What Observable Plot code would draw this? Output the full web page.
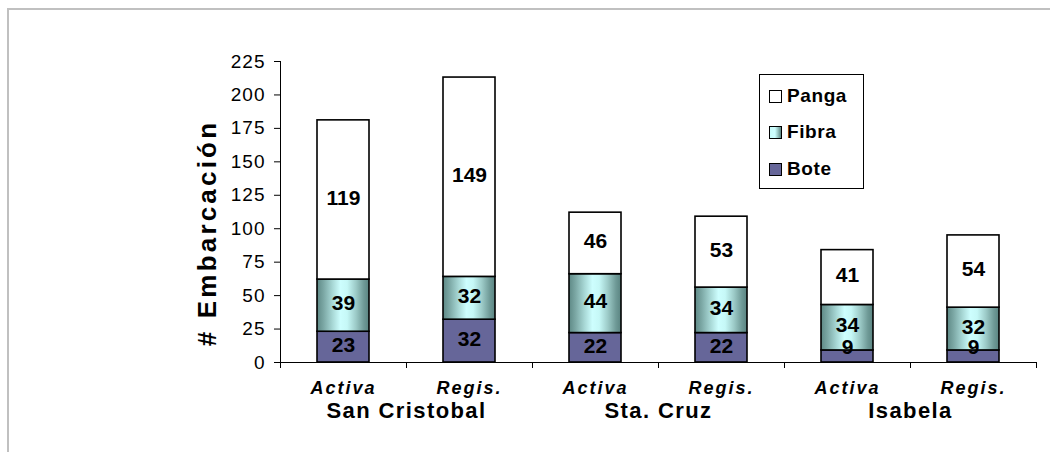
<!DOCTYPE html>
<html>
<head>
<meta charset="utf-8">
<script src="https://cdn.jsdelivr.net/npm/d3@7"></script>
<script src="https://cdn.jsdelivr.net/npm/@observablehq/plot@0.6"></script>
<style>
  body { margin: 0; background: #fff; font-family: "Liberation Sans", Arial, sans-serif; }
  #wrap { position: relative; width: 1050px; height: 452px; overflow: hidden; background: #fff; }
  #border { position: absolute; left: 7px; top: 8px; width: 1100px; height: 500px;
            border-top: 2px solid #c0c0c0; border-left: 2px solid #c0c0c0; }
  #chart { position: absolute; left: 0; top: 0; }
  #ytitle { position: absolute; left: 207px; top: 233px; transform: translate(-50%, -50%) rotate(-90deg);
            white-space: nowrap; font-weight: bold; font-size: 26px; letter-spacing: 3.2px; color: #000;
            line-height: 1; }
  #legend { position: absolute; left: 759px; top: 74px; width: 103px; height: 113px;
            border: 1px solid #000; background: #fff; }
  .item { position: absolute; left: 9px; height: 22px; display: flex; align-items: center;
          font-weight: bold; font-size: 19px; letter-spacing: 0.6px; color: #000; }
  .sw { width: 11px; height: 11px; border: 1px solid #000; margin-right: 5px; box-sizing: content-box; }
</style>
</head>
<body>
<svg width="0" height="0" style="position:absolute">
  <defs>
    <linearGradient id="fibraGrad" x1="0" x2="1" y1="0" y2="0">
      <stop offset="0%" stop-color="#5e8986"/>
      <stop offset="12%" stop-color="#7aa6a3"/>
      <stop offset="30%" stop-color="#a8d8d6"/>
      <stop offset="45%" stop-color="#cdfefe"/>
      <stop offset="58%" stop-color="#c6f8f7"/>
      <stop offset="75%" stop-color="#9ccac7"/>
      <stop offset="90%" stop-color="#6f9a97"/>
      <stop offset="100%" stop-color="#5a8481"/>
    </linearGradient>
  </defs>
</svg>
<div id="wrap">
  <div id="border"></div>
  <div id="chart"></div>
  <div id="ytitle"></div>
  <div id="legend"></div>
</div>
<script>
const islands = ["San Cristobal", "Sta. Cruz", "Isabela"];
const status = ["Activa", "Regis."];
const series = ["Bote", "Fibra", "Panga"];
const bote  = [23, 32, 22, 22, 9, 9];
const fibra = [39, 32, 44, 34, 34, 32];
const panga = [119, 149, 46, 53, 41, 54];
const yTicks = [0, 25, 50, 75, 100, 125, 150, 175, 200, 225];
const seriesColors = ["#666699", "url(#fibraGrad)", "#ffffff"];
const legendOrder = ["Panga", "Fibra", "Bote"];
const yTitle = "# Embarcación";

const keys = islands.flatMap(i => status.map(s => i + "|" + s));
const valuesBySeries = {Bote: bote, Fibra: fibra, Panga: panga};
const rows = [];
keys.forEach((k, i) => {
  let base = 0;
  series.forEach(s => {
    const v = valuesBySeries[s][i];
    rows.push({key: k, series: s, value: v, y1: base, y2: base + v});
    base += v;
  });
});

const half = (1036 - 280) / keys.length / 2;

const chart = Plot.plot({
  width: 1050,
  height: 452,
  marginLeft: 280,
  marginRight: 14,
  marginTop: 61,
  marginBottom: 90,
  style: {fontFamily: "'Liberation Sans', Arial, sans-serif", background: "transparent", color: "#000"},
  x: {type: "band", domain: keys, padding: 0, axis: null},
  y: {domain: [0, 225], axis: null},
  color: {domain: series, range: seriesColors},
  marks: [
    Plot.barY(rows, {x: "key", y1: "y1", y2: "y2", fill: "series", stroke: "#000", strokeWidth: 1.6,
                     insetLeft: 37, insetRight: 37}),
    Plot.text(rows, {x: "key", y: d => Math.max((d.y1 + d.y2) / 2, 10), text: d => String(d.value),
                     dy: -2, fontSize: 21, fontWeight: "bold", fill: "#000"}),
    Plot.ruleY([0], {stroke: "#000", strokeWidth: 1}),
    Plot.ruleX([keys[0]], {dx: -half, stroke: "#000", strokeWidth: 1}),
    Plot.ruleX(keys, {x: k => k, y1: 0, y2: 0, dx: -half, insetBottom: -6, stroke: "#000"}),
    Plot.ruleX([keys[keys.length - 1]], {x: k => k, y1: 0, y2: 0, dx: half, insetBottom: -6, stroke: "#000"}),
    Plot.axisY(yTicks, {tickSize: 6, tickPadding: 9, fontSize: 19, label: null, stroke: "#000", fill: "#000"}),
    Plot.text(keys, {x: k => k, text: k => k.split("|")[1], frameAnchor: "bottom", dy: 31,
                     fontSize: 18, fontWeight: "bold", fontStyle: "italic", fill: "#000"}),
    Plot.text(islands, {x: i => i + "|" + status[0], text: i => i, frameAnchor: "bottom", dx: half, dy: 55,
                        fontSize: 22, fontWeight: "bold", fill: "#000"})
  ]
});
document.getElementById("chart").appendChild(chart);
const svgSel = d3.select(chart);
svgSel.selectAll("text").filter(function () { return status.includes(this.textContent); })
  .style("letter-spacing", "2px");
svgSel.selectAll("text").filter(function () { return islands.includes(this.textContent); })
  .style("letter-spacing", "1.4px");
svgSel.selectAll("text").filter(function () { return yTicks.map(String).includes(this.textContent); })
  .style("letter-spacing", "1px");

document.getElementById("ytitle").textContent = yTitle;

const legend = document.getElementById("legend");
const rowCenters = [21, 57, 94];
legendOrder.forEach((s, j) => {
  const item = document.createElement("div");
  item.className = "item";
  item.style.top = (rowCenters[j] - 11) + "px";
  const sw = document.createElement("div");
  sw.className = "sw";
  const c = seriesColors[series.indexOf(s)];
  sw.style.background = s === "Fibra"
    ? "linear-gradient(to right, #c8fbfa 0%, #cdfefe 45%, #9ccac7 70%, #5a8481 100%)"
    : c;
  item.appendChild(sw);
  const t = document.createElement("span");
  t.textContent = s;
  item.appendChild(t);
  legend.appendChild(item);
});
</script>
</body>
</html>
